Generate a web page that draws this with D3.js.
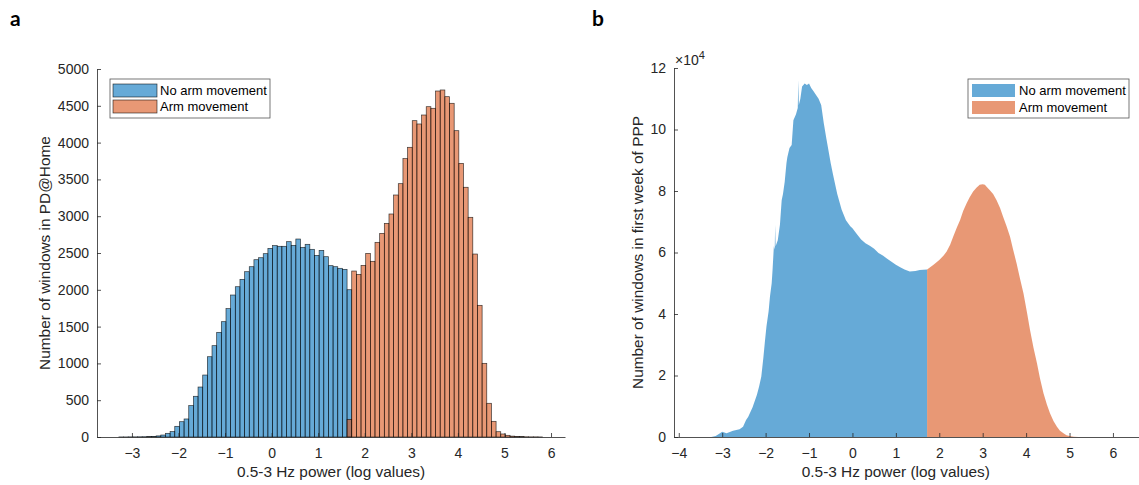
<!DOCTYPE html>
<html>
<head>
<meta charset="utf-8">
<script src="https://cdn.jsdelivr.net/npm/d3@7"></script>
<style>
  body { margin: 0; background: #fff; }
  svg { display: block; font-family: 'Liberation Sans', Arial, sans-serif; }
  .axis path, .axis line { stroke: #262626; stroke-width: 0.8; }
  .axis text { fill: #262626; font-size: 14px; }
</style>
</head>
<body>
<div id="chart"></div>
<script>
// data: panel a, histogram counts (bin width 0.1)
const binWidth = 0.1;
const homeNoArmStart = -3.28;
const homeNoArmCounts = [1, 1, 2, 2, 3, 4, 5, 8, 15,
  27, 50, 73, 145, 208, 245, 426, 553, 679, 842, 1091, 1241, 1422, 1567, 1744, 1929,
  2042, 2142, 2246, 2314, 2409, 2436, 2491, 2563, 2600, 2591, 2591, 2654, 2604, 2690,
  2577, 2618, 2550, 2468, 2536, 2450, 2328, 2314, 2292, 2278, 2001];
const homeArmStart = 1.62;
const homeArmCounts = [240, 2255, 2210, 2332, 2495, 2387, 2645, 2767, 2903, 3030, 3288,
  3442, 3782, 3936, 4298, 4253, 4375, 4488, 4466, 4701, 4715, 4624, 4534, 4162, 3718,
  3393, 2985, 2486, 1789, 1001, 458, 213, 72, 41, 23, 12, 8, 5, 3, 2, 2, 1];

// data: panel b, fine histogram outline (counts x 1e4)
const pppNoArmPower = [-3.25, -3.15, -3.05, -3.0, -2.9, -2.75, -2.6, -2.52, -2.45, -2.4,
  -2.3, -2.2, -2.15, -2.1, -2.05, -2.02, -1.98, -1.93, -1.9, -1.86, -1.84, -1.81, -1.79,
  -1.78, -1.77, -1.72, -1.67, -1.63, -1.6, -1.56, -1.52, -1.5, -1.45, -1.4, -1.36, -1.3,
  -1.26, -1.245, -1.235, -1.2, -1.16, -1.1, -1.05, -1.0, -0.95, -0.9, -0.85, -0.78, -0.72,
  -0.66, -0.6, -0.5, -0.45, -0.35, -0.25, -0.15, -0.05, 0, 0.1, 0.2, 0.3, 0.4, 0.5, 0.6,
  0.7, 0.8, 0.9, 1.0, 1.1, 1.2, 1.32, 1.45, 1.55, 1.72];
const pppNoArmCounts = [0, 0.03, 0.12, 0.17, 0.12, 0.2, 0.25, 0.33, 0.55, 0.66,
  0.97, 1.37, 1.64, 1.96, 2.6, 3.05, 3.6, 4.1, 4.56, 5.0, 5.43, 6.2, 6.1,
  6.9, 6.2, 6.4, 6.9, 7.7, 7.9, 8.3, 8.9, 9.1, 9.4, 9.5, 10.3, 10.5,
  10.7, 11.6, 10.8, 11.0, 11.4, 11.5, 11.45, 11.5, 11.35, 11.25, 11.15, 11.0, 10.8,
  10.2, 9.7, 8.9, 8.55, 7.9, 7.4, 7.05, 6.85, 6.79, 6.6, 6.42, 6.3, 6.22, 6.12, 5.98,
  5.9, 5.8, 5.7, 5.6, 5.52, 5.45, 5.38, 5.4, 5.43, 5.45];
const pppArmPower = [1.72, 1.86, 2.0, 2.1, 2.17, 2.25, 2.32, 2.4, 2.48, 2.55, 2.63, 2.7,
  2.78, 2.85, 2.93, 3.0, 3.05, 3.1, 3.16, 3.24, 3.32, 3.4, 3.47, 3.55, 3.63, 3.7, 3.78,
  3.86, 3.94, 4.02, 4.09, 4.17, 4.25, 4.32, 4.4, 4.48, 4.55, 4.63, 4.71, 4.78, 4.86,
  4.93, 5.0, 5.1, 5.2];
const pppArmCounts = [5.45, 5.59, 5.76, 5.9, 6.03, 6.25, 6.51, 6.8, 7.06, 7.35, 7.6, 7.8,
  7.98, 8.1, 8.2, 8.22, 8.2, 8.12, 8.03, 7.9, 7.7, 7.45, 7.16, 6.85, 6.51, 6.1, 5.65,
  5.15, 4.67, 4.05, 3.48, 2.9, 2.4, 1.9, 1.42, 1.05, 0.77, 0.52, 0.33, 0.2, 0.12,
  0.06, 0.03, 0.01, 0];

const seriesNames = ['No arm movement', 'Arm movement'];
const seriesColors = ['rgb(0,114,189)', 'rgb(217,83,25)'];
const faceAlpha = 0.6;

const xTicksA = d3.range(-3, 7);
const yTicksA = d3.range(0, 5001, 500);
const xTicksB = d3.range(-4, 7);
const yTicksB = d3.range(0, 13, 2);

// ---------------------------------------------------------- layout
const W = 1139, H = 485;
const svg = d3.select('#chart').append('svg').attr('width', W).attr('height', H);

const xA = d3.scaleLinear().domain([-3.75, 6.3]).range([97, 565]);
const yA = d3.scaleLinear().domain([0, 5000]).range([437, 69]);
const xB = d3.scaleLinear().domain([-4.11, 6.6]).range([674, 1139]);
const yB = d3.scaleLinear().domain([0, 12]).range([437, 68]);
const fmt = d3.format('d');

// panel letters
svg.append('text').attr('x', 10).attr('y', 26).text('a')
  .attr('font-family', 'Lato, sans-serif').attr('font-weight', 700).attr('font-size', 21);
svg.append('text').attr('x', 592).attr('y', 26).text('b')
  .attr('font-family', 'Lato, sans-serif').attr('font-weight', 700).attr('font-size', 21);

// ---------------------------------------------------------- panel a
const gA = svg.append('g');
const histA = [
  { start: homeNoArmStart, counts: homeNoArmCounts, i: 0 },
  { start: homeArmStart, counts: homeArmCounts, i: 1 }
];
histA.forEach((s) => {
  gA.append('g').selectAll('rect')
    .data(s.counts.map((c, k) => ({ x0: s.start + k * binWidth, c })))
    .join('rect')
    .attr('x', (d) => xA(d.x0))
    .attr('width', (d) => xA(d.x0 + binWidth) - xA(d.x0))
    .attr('y', (d) => yA(d.c))
    .attr('height', (d) => yA(0) - yA(d.c))
    .attr('fill', seriesColors[s.i])
    .attr('fill-opacity', faceAlpha)
    .attr('stroke', '#000')
    .attr('stroke-opacity', 0.75)
    .attr('stroke-width', 0.7);
});

gA.append('g').attr('class', 'axis')
  .attr('transform', `translate(0,${yA(0)})`)
  .call(d3.axisBottom(xA).tickValues(xTicksA).tickFormat(fmt)
    .tickSizeInner(-4).tickSizeOuter(0).tickPadding(11));
gA.append('g').attr('class', 'axis')
  .attr('transform', `translate(${xA.range()[0]},0)`)
  .call(d3.axisLeft(yA).tickValues(yTicksA).tickFormat(fmt)
    .tickSizeInner(-4).tickSizeOuter(0).tickPadding(8));

gA.append('text').attr('x', (xA.range()[0] + xA.range()[1]) / 2).attr('y', 477)
  .attr('text-anchor', 'middle').attr('font-size', 15.4).attr('fill', '#262626')
  .text('0.5-3 Hz power (log values)');
gA.append('text')
  .attr('transform', `translate(50,${(yA.range()[0] + yA.range()[1]) / 2}) rotate(-90)`)
  .attr('text-anchor', 'middle').attr('font-size', 15.4).attr('fill', '#262626')
  .text('Number of windows in PD@Home');

// legend a
const legA = gA.append('g').attr('transform', 'translate(110,79)');
legA.append('rect').attr('width', 160).attr('height', 39)
  .attr('fill', '#fff').attr('stroke', '#555').attr('stroke-width', 0.8);
seriesNames.forEach((n, i) => {
  legA.append('rect').attr('x', 3).attr('y', 5 + i * 16).attr('width', 44).attr('height', 13)
    .attr('fill', seriesColors[i]).attr('fill-opacity', faceAlpha)
    .attr('stroke', '#000').attr('stroke-opacity', 0.75).attr('stroke-width', 0.7);
  legA.append('text').attr('x', 50).attr('y', 16 + i * 16)
    .attr('font-size', 13).attr('fill', '#000').text(n);
});

// ---------------------------------------------------------- panel b
const gB = svg.append('g');
const areaB = d3.area()
  .x((d) => xB(d[0]))
  .y0(yB(0))
  .y1((d) => yB(d[1]));
gB.append('path')
  .datum(d3.zip(pppNoArmPower, pppNoArmCounts))
  .attr('d', areaB).attr('fill', seriesColors[0]).attr('fill-opacity', faceAlpha);
gB.append('path')
  .datum(d3.zip(pppArmPower, pppArmCounts))
  .attr('d', areaB).attr('fill', seriesColors[1]).attr('fill-opacity', faceAlpha);

gB.append('g').attr('class', 'axis')
  .attr('transform', `translate(0,${yB(0)})`)
  .call(d3.axisBottom(xB).tickValues(xTicksB).tickFormat(fmt)
    .tickSizeInner(-4).tickSizeOuter(0).tickPadding(11));
gB.append('g').attr('class', 'axis')
  .attr('transform', `translate(${xB.range()[0]},0)`)
  .call(d3.axisLeft(yB).tickValues(yTicksB).tickFormat(fmt)
    .tickSizeInner(-4).tickSizeOuter(0).tickPadding(8));

const expo = gB.append('text').attr('x', 675).attr('y', 65)
  .attr('font-size', 14).attr('fill', '#262626');
expo.append('tspan').text('\u00d710');
expo.append('tspan').attr('dy', -6).attr('font-size', 11).text('4');

gB.append('text').attr('x', (xB(-4) + xB(6)) / 2).attr('y', 477)
  .attr('text-anchor', 'middle').attr('font-size', 15.4).attr('fill', '#262626')
  .text('0.5-3 Hz power (log values)');
gB.append('text')
  .attr('transform', `translate(643,${(yB.range()[0] + yB.range()[1]) / 2}) rotate(-90)`)
  .attr('text-anchor', 'middle').attr('font-size', 15.4).attr('fill', '#262626')
  .text('Number of windows in first week of PPP');

// legend b
const legB = gB.append('g').attr('transform', 'translate(968,79)');
legB.append('rect').attr('width', 161).attr('height', 39)
  .attr('fill', '#fff').attr('stroke', '#555').attr('stroke-width', 0.8);
seriesNames.forEach((n, i) => {
  legB.append('rect').attr('x', 4).attr('y', 5 + i * 17).attr('width', 43).attr('height', 13)
    .attr('fill', seriesColors[i]).attr('fill-opacity', faceAlpha);
  legB.append('text').attr('x', 51).attr('y', 16 + i * 17)
    .attr('font-size', 13).attr('fill', '#000').text(n);
});
</script>
</body>
</html>
